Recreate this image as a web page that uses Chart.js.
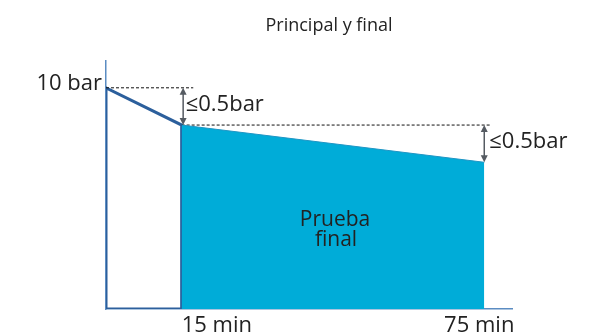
<!DOCTYPE html>
<html>
<head>
<meta charset="utf-8">
<script src="https://cdn.jsdelivr.net/npm/chart.js@4/dist/chart.umd.min.js"></script>
<style>
  html, body { margin: 0; padding: 0; background: #fff; }
  #wrap { width: 607px; height: 336px; }
</style>
</head>
<body>
<div id="wrap"><canvas id="testChart"></canvas></div>
<script>
// data (minutes, bar)
var minutes = [0, 15, 75];
var pressure = [10, 9.5, 9.0];
var baseBar = 7.03;
var dropLabel = '\u22640.5bar';
var titleText = 'Principal y final';
var xLabels = ['15 min', '75 min'];
var yLabel = '10 bar';
var areaLabel = ['Prueba', 'final'];

var font = '"Open Sans", "Noto Sans", sans-serif';

// first stage outline: box under the drop from 10 to 9.5 bar
var outline = [
  {x: minutes[0], y: baseBar},
  {x: minutes[0], y: pressure[0]},
  {x: minutes[1], y: pressure[1]},
  {x: minutes[1], y: baseBar},
  {x: minutes[0], y: baseBar}
];
// final test area
var finalArea = [
  {x: minutes[1], y: pressure[1]},
  {x: minutes[2], y: pressure[2]}
];
// dashed reference lines
var ref1 = [{x: minutes[0], y: pressure[0]}, {x: 17.3, y: pressure[0]}];
var ref2 = [{x: minutes[1], y: pressure[1]}, {x: 76.3, y: pressure[1]}];

function arrow(ctx, x, y1, y2) {
  ctx.save();
  ctx.strokeStyle = '#555b62';
  ctx.fillStyle = '#555b62';
  ctx.lineWidth = 1.5;
  ctx.beginPath();
  ctx.moveTo(x, y1 + 5);
  ctx.lineTo(x, y2 - 5);
  ctx.stroke();
  ctx.beginPath();
  ctx.moveTo(x, y1); ctx.lineTo(x - 3.5, y1 + 7); ctx.lineTo(x + 3.5, y1 + 7); ctx.closePath();
  ctx.fill();
  ctx.beginPath();
  ctx.moveTo(x, y2); ctx.lineTo(x - 3.5, y2 - 7); ctx.lineTo(x + 3.5, y2 - 7); ctx.closePath();
  ctx.fill();
  ctx.restore();
}

var labelsPlugin = {
  id: 'labels',
  afterDatasetsDraw: function(chart) {
    var ctx = chart.ctx;
    var xs = chart.scales.x, ys = chart.scales.y;
    var x0 = xs.getPixelForValue(minutes[0]);
    var x1 = xs.getPixelForValue(minutes[1]);
    var x2 = xs.getPixelForValue(minutes[2]);
    var y0 = ys.getPixelForValue(pressure[0]);
    var y1 = ys.getPixelForValue(pressure[1]);
    var y2 = ys.getPixelForValue(pressure[2]);
    var yb = ys.getPixelForValue(baseBar);

    arrow(ctx, x1 + 1.5, y0, y1);
    arrow(ctx, x2, y1, y2);

    ctx.save();
    ctx.fillStyle = '#222';
    ctx.textBaseline = 'middle';

    ctx.font = '18px ' + font;
    ctx.textAlign = 'center';
    ctx.fillText(titleText, 329, 26);

    ctx.font = '22px ' + font;
    ctx.textAlign = 'right';
    ctx.fillText(yLabel, x0 - 4, y0 - 4);

    ctx.textAlign = 'left';
    ctx.fillText(dropLabel, x1 + 4, (y0 + y1) / 2 - 2);
    ctx.fillText(dropLabel, x2 + 5, (y1 + y2) / 2 - 2);

    ctx.fillText(xLabels[0], x1, yb + 17);
    ctx.textAlign = 'center';
    ctx.fillText(xLabels[1], x2 - 5, yb + 17);

    ctx.font = '21px ' + font;
    ctx.fillText(areaLabel[0], 335, 220);
    ctx.fillText(areaLabel[1], 336, 240);
    ctx.restore();
  }
};

var ctx = document.getElementById('testChart').getContext('2d');
var testChart = new Chart(ctx, {
  type: 'line',
  data: {
    datasets: [
      {
        data: finalArea,
        fill: 'start',
        backgroundColor: '#00acd8',
        borderColor: '#1f95c4',
        borderWidth: 1,
        pointRadius: 0,
        tension: 0
      },
      {
        data: ref1,
        borderColor: '#111',
        borderWidth: 1,
        borderDash: [3, 2],
        pointRadius: 0,
        fill: false
      },
      {
        data: ref2,
        borderColor: '#111',
        borderWidth: 1,
        borderDash: [3, 2],
        pointRadius: 0,
        fill: false
      },
      {
        data: outline,
        borderColor: '#2c5f9c',
        borderWidth: 3,
        borderJoinStyle: 'miter',
        pointRadius: 0,
        fill: false,
        tension: 0
      }
    ]
  },
  options: {
    responsive: true,
    maintainAspectRatio: false,
    animation: false,
    layout: { padding: { left: 98, right: 95, top: 61, bottom: 19 } },
    plugins: {
      legend: { display: false },
      title: { display: false },
      tooltip: { enabled: false }
    },
    scales: {
      x: {
        type: 'linear',
        min: 0,
        max: 80.5,
        grid: { display: false },
        ticks: { display: false },
        border: { display: true, color: '#5b8cc2', width: 1.5 }
      },
      y: {
        min: baseBar,
        max: 10.36,
        grid: { display: false },
        ticks: { display: false },
        border: { display: true, color: '#5b8cc2', width: 1.5 }
      }
    }
  },
  plugins: [labelsPlugin]
});
</script>
</body>
</html>
